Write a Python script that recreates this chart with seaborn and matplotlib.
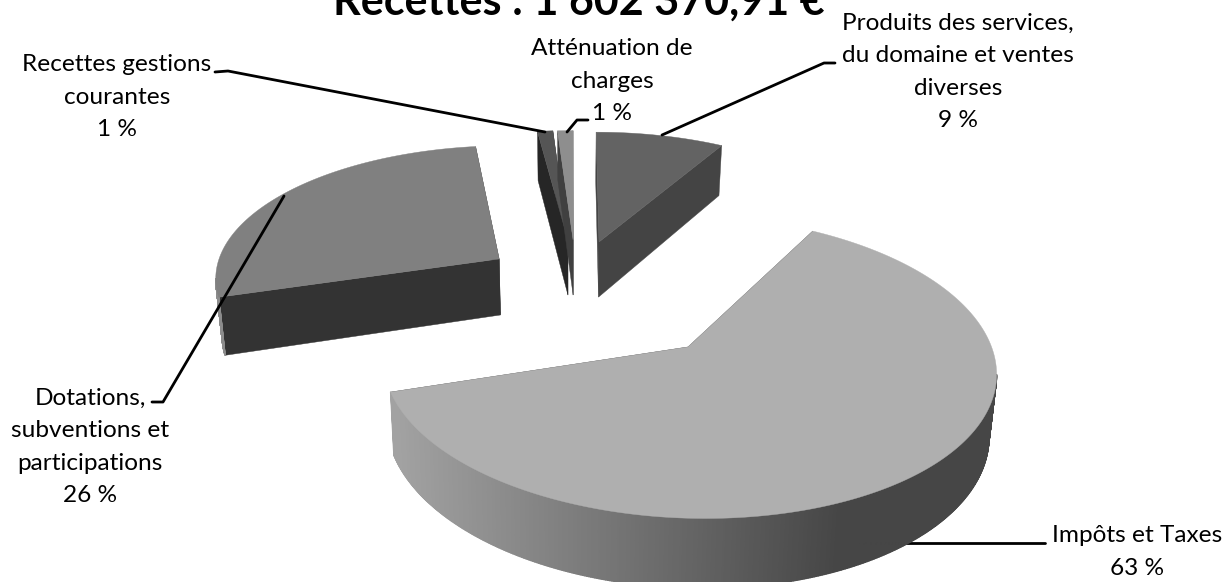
import numpy as np
import matplotlib
matplotlib.use("Agg")
import matplotlib.pyplot as plt
from matplotlib.collections import PolyCollection
import seaborn as sns

# shares of the circle as drawn, clockwise from 12 o'clock
categories = ["Produits des services,\ndu domaine et ventes\ndiverses", "Impôts et Taxes",
              "Dotations,\nsubventions et\nparticipations", "Recettes gestions\ncourantes",
              "Atténuation de\ncharges"]
drawn_shares = [8.35, 61.95, 27.7, 1.0, 1.0]
share_labels = ["9 %", "63 %", "26 %", "1 %", "1 %"]

# look of each slice
top_colors = ["#636363", "#afafaf", "#808080", "#555555", "#8e8e8e"]
side_colors = ["#444444", "#4a4a4a", "#333333", "#262626", "#404040"]
wall_colors = ["#444444", None, "#8c8c8c", "#262626", "#404040"]
# apex of each slice on the pie plane, in pie radii
offset_u = [0.098, 0.382, -0.26, -0.015, 0.004]
offset_v = [0.418, -0.358, 0.282, 0.434, 0.434]
paint_order = [2, 0, 3, 4, 1]

# camera
CX, CY = 572, 296
RADIUS = 290
FLATTEN = 136
PERSP = 0.125
HEIGHT = 58
SHRINK = 0.018

label_x = [958, 1137, 90, 117, 612]
label_y = [72, 552, 447, 97, 81]
leaders = [
    ([835, 824, 662], [63, 63, 135]),
    ([860, 1045], [542.5, 542.5]),
    ([152, 163, 284], [402, 402, 196]),
    ([215, 228, 545], [72, 71, 132]),
    ([588, 577, 567], [120, 120, 132]),
]


def project(u, v):
    s = 1 / (1 + PERSP * v)
    return CX + RADIUS * u * s, CY - FLATTEN * v * s, s


def drop(x, y, s):
    return CX + (x - CX) * (1 - SHRINK), y + HEIGHT * s


def i_z(i):
    return 2 + paint_order.index(i)


def draw_slice(ax, i, start, end):
    theta = np.radians(np.linspace(start, end, 600))
    u0, v0 = offset_u[i], offset_v[i]
    ax_, ay_, as_ = project(u0, v0)
    bx_, by_ = drop(ax_, ay_, as_)
    x, y, s = project(u0 + np.sin(theta), v0 + np.cos(theta))
    xb, yb = drop(x, y, s)

    # radial sides
    for k in (0, -1):
        ax.fill([ax_, x[k], xb[k], bx_], [ay_, y[k], yb[k], by_], color=side_colors[i], lw=0.3, zorder=i_z(i))

    # outer wall, only the part turned to the viewer
    quads, cols = [], []
    grad = sns.blend_palette(["#a2a2a2", "#464646"], 256)
    for j in range(len(x) - 1):
        if x[j + 1] >= x[j]:
            continue
        quads.append([(x[j], y[j]), (x[j + 1], y[j + 1]), (xb[j + 1], yb[j + 1]), (xb[j], yb[j])])
        if wall_colors[i] is None:
            t = np.clip((x[j] - 396) / (840 - 396), 0, 1)
            cols.append(grad[int(t * 255)])
        else:
            cols.append(wall_colors[i])
    if quads:
        ax.add_collection(PolyCollection(quads, facecolors=cols, edgecolors=cols, linewidths=1.0, zorder=i_z(i)))

    ax.fill(np.r_[ax_, x], np.r_[ay_, y], color=top_colors[i], lw=0.3, zorder=i_z(i) + 0.5)


def main():
    sns.set_theme(style="white")
    plt.rcParams["font.family"] = ["Lato", "DejaVu Sans"]

    fig = plt.figure(figsize=(12.26, 5.82), dpi=100)
    ax = fig.add_axes([0, 0, 1, 1])
    ax.set_xlim(0, 1226)
    ax.set_ylim(582, 0)
    ax.axis("off")

    edges = np.r_[0, np.cumsum(drawn_shares)] / sum(drawn_shares) * 360
    for i in paint_order:
        draw_slice(ax, i, edges[i], edges[i + 1])

    for i, (lx, ly) in enumerate(leaders):
        sns.lineplot(x=lx, y=ly, sort=False, estimator=None, color="black", linewidth=2,
                     ax=ax, zorder=1 if i == 1 else 10)
    ax.set_xlim(0, 1226)
    ax.set_ylim(582, 0)
    ax.set_xlabel("")
    ax.set_ylabel("")

    for name, pct, x, y in zip(categories, share_labels, label_x, label_y):
        ax.text(x, y, f"{name}\n{pct}", ha="center", va="center", fontsize=17.6, color="black",
                linespacing=1.66, zorder=11)

    ax.text(579, 15, "Recettes : 1 602 370,91 €", ha="center", va="baseline", fontsize=31,
            fontweight="bold", color="black", zorder=11)

    fig.savefig("out.png", dpi=100)


if __name__ == "__main__":
    main()
